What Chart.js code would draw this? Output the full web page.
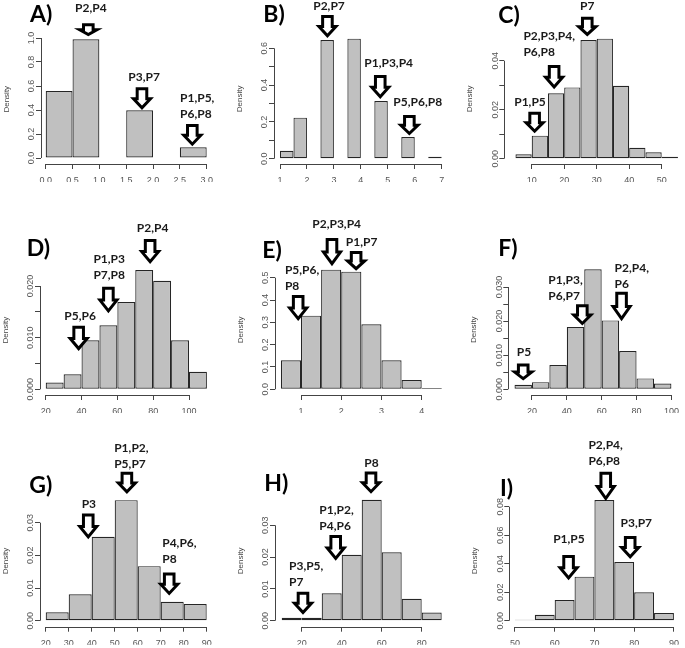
<!DOCTYPE html>
<html>
<head>
<meta charset="utf-8">
<script src="https://cdn.jsdelivr.net/npm/chart.js@4.4.1/dist/chart.umd.min.js"></script>
<style>
  body { margin: 0; background: #fff; }
  #wrap { position: relative; width: 685px; height: 648px; }
  #wrap canvas { position: absolute; left: 0; top: 0; }
</style>
</head>
<body>
<div id="wrap"></div>
<script>
// ---- data (histogram breaks + densities, arrows) ----

const breaksA = [0, 0.5, 1, 1.5, 2, 2.5, 3];
const densA = [0.558, 0.99, 0, 0.397, 0, 0.089];
const xTicksA = [0, 0.5, 1, 1.5, 2, 2.5, 3];
const xLabelsA = ["0.0", "0.5", "1.0", "1.5", "2.0", "2.5", "3.0"];
const yTicksA = [0, 0.2, 0.4, 0.6, 0.8, 1.0];
const yLabelsA = ["0.0", "0.2", "0.4", "0.6", "0.8", "1.0"];
const arrowsA = [
    { x: 0.794, y: 1.017, text: ["P2,P4"] },
    { x: 1.794, y: 0.406, text: ["P3,P7"] },
    { x: 2.732, y: 0.1025, text: ["P1,P5,", "P6,P8"] }
];

const breaksB = [1, 1.5, 2, 2.5, 3, 3.5, 4, 4.5, 5, 5.5, 6, 6.5, 7];
const densB = [0.0435, 0.223, 0, 0.645, 0, 0.6525, 0, 0.3136, 0, 0.118, 0, 0.011];
const xTicksB = [1, 2, 3, 4, 5, 6, 7];
const xLabelsB = ["1", "2", "3", "4", "5", "6", "7"];
const yTicksB = [0, 0.1, 0.2, 0.3, 0.4, 0.5, 0.6];
const yLabelsB = ["0.0", "", "0.2", "", "0.4", "", "0.6"];
const arrowsB = [
    { x: 2.76, y: 0.66, text: ["P2,P7"] },
    { x: 4.72, y: 0.328, text: ["P1,P3,P4"] },
    { x: 5.80, y: 0.129, text: ["P5,P6,P8"] }
];

const breaksC = [5, 10, 15, 20, 25, 30, 35, 40, 45, 50, 55];
const densC = [0.0018, 0.0094, 0.0267, 0.0291, 0.0484, 0.049, 0.0298, 0.0045, 0.0026, 0.0008];
const xTicksC = [10, 20, 30, 40, 50];
const xLabelsC = ["10", "20", "30", "40", "50"];
const yTicksC = [0, 0.01, 0.02, 0.03, 0.04];
const yLabelsC = ["0.00", "", "0.02", "", "0.04"];
const arrowsC = [
    { x: 27.1, y: 0.0501, text: ["P7"] },
    { x: 16.9, y: 0.0287, text: ["P2,P3,P4,", "P6,P8"] },
    { x: 10.9, y: 0.0106, text: ["P1,P5"] }
];

const breaksD = [20, 30, 40, 50, 60, 70, 80, 90, 100, 110];
const densD = [0.0013, 0.0029, 0.0095, 0.0124, 0.0169, 0.0231, 0.0210, 0.0095, 0.0034];
const xTicksD = [20, 40, 60, 80, 100];
const xLabelsD = ["20", "40", "60", "80", "100"];
const yTicksD = [0, 0.005, 0.01, 0.015, 0.02];
const yLabelsD = ["0.000", "", "0.010", "", "0.020"];
const arrowsD = [
    { x: 78.3, y: 0.0244, text: ["P2,P4"] },
    { x: 55.0, y: 0.0149, text: ["P1,P3", "P7,P8"] },
    { x: 38.4, y: 0.0076, text: ["P5,P6"] }
];

const breaksE = [0.5, 1, 1.5, 2, 2.5, 3, 3.5, 4, 4.5];
const densE = [0.130, 0.330, 0.536, 0.527, 0.291, 0.130, 0.042, 0.006];
const xTicksE = [1, 2, 3, 4];
const xLabelsE = ["1", "2", "3", "4"];
const yTicksE = [0, 0.1, 0.2, 0.3, 0.4, 0.5];
const yLabelsE = ["0.0", "0.1", "0.2", "0.3", "0.4", "0.5"];
const arrowsE = [
    { x: 1.77, y: 0.556, text: ["P2,P3,P4"] },
    { x: 2.37, y: 0.534, text: ["P1,P7"] },
    { x: 0.93, y: 0.310, text: ["P5,P6,", "P8"] }
];

const breaksF = [10, 20, 30, 40, 50, 60, 70, 80, 90, 100];
const densF = [0.0013, 0.0021, 0.0071, 0.0183, 0.0352, 0.0202, 0.0112, 0.0032, 0.0017];
const xTicksF = [20, 40, 60, 80, 100];
const xLabelsF = ["20", "40", "60", "80", "100"];
const yTicksF = [0, 0.005, 0.01, 0.015, 0.02, 0.025, 0.03];
const yLabelsF = ["0.000", "", "0.010", "", "0.020", "", "0.030"];
const arrowsF = [
    { x: 48.9, y: 0.01886, text: ["P1,P3,", "P6,P7"] },
    { x: 71.4, y: 0.0203, text: ["P2,P4,", "P6"] },
    { x: 15.0, y: 0.0027, text: ["P5"] }
];

const breaksG = [20, 30, 40, 50, 60, 70, 80, 90];
const densG = [0.0026, 0.0081, 0.0257, 0.0369, 0.0167, 0.0058, 0.0051];
const xTicksG = [20, 30, 40, 50, 60, 70, 80, 90];
const xLabelsG = ["20", "30", "40", "50", "60", "70", "80", "90"];
const yTicksG = [0, 0.01, 0.02, 0.03];
const yLabelsG = ["0.00", "0.01", "0.02", "0.03"];
const arrowsG = [
    { x: 55.3, y: 0.039, text: ["P1,P2,", "P5,P7"] },
    { x: 38.5, y: 0.0252, text: ["P3"] },
    { x: 73.7, y: 0.0079, text: ["P4,P6,", "P8"] }
];

const breaksH = [10, 20, 30, 40, 50, 60, 70, 80, 90];
const densH = [0.0009, 0.0009, 0.0086, 0.0207, 0.038, 0.0215, 0.0069, 0.0026];
const xTicksH = [20, 40, 60, 80];
const xLabelsH = ["20", "40", "60", "80"];
const yTicksH = [0, 0.01, 0.02, 0.03];
const yLabelsH = ["0.00", "0.01", "0.02", "0.03"];
const arrowsH = [
    { x: 54.65, y: 0.0401, text: ["P8"] },
    { x: 37.0, y: 0.0191, text: ["P1,P2,", "P4,P6"] },
    { x: 20.65, y: 0.0021, text: ["P3,P5,", "P7"] }
];

const breaksI = [50, 55, 60, 65, 70, 75, 80, 85, 90];
const densI = [0.0007, 0.0042, 0.0145, 0.0309, 0.0847, 0.0412, 0.0199, 0.0054];
const xTicksI = [50, 60, 70, 80, 90];
const xLabelsI = ["50", "60", "70", "80", "90"];
const yTicksI = [0, 0.02, 0.04, 0.06, 0.08];
const yLabelsI = ["0.00", "0.02", "0.04", "0.06", "0.08"];
const arrowsI = [
    { x: 72.85, y: 0.0847, text: ["P2,P4,", "P6,P8"] },
    { x: 79.0, y: 0.0438, text: ["P3,P7"] },
    { x: 63.5, y: 0.029, text: ["P1,P5"] }
];

const panels = [
    { name: "A)", breaks: breaksA, dens: densA, xTicks: xTicksA, xLabels: xLabelsA, yTicks: yTicksA, yLabels: yLabelsA, arrows: arrowsA },
    { name: "B)", breaks: breaksB, dens: densB, xTicks: xTicksB, xLabels: xLabelsB, yTicks: yTicksB, yLabels: yLabelsB, arrows: arrowsB },
    { name: "C)", breaks: breaksC, dens: densC, xTicks: xTicksC, xLabels: xLabelsC, yTicks: yTicksC, yLabels: yLabelsC, arrows: arrowsC },
    { name: "D)", breaks: breaksD, dens: densD, xTicks: xTicksD, xLabels: xLabelsD, yTicks: yTicksD, yLabels: yLabelsD, arrows: arrowsD },
    { name: "E)", breaks: breaksE, dens: densE, xTicks: xTicksE, xLabels: xLabelsE, yTicks: yTicksE, yLabels: yLabelsE, arrows: arrowsE },
    { name: "F)", breaks: breaksF, dens: densF, xTicks: xTicksF, xLabels: xLabelsF, yTicks: yTicksF, yLabels: yLabelsF, arrows: arrowsF },
    { name: "G)", breaks: breaksG, dens: densG, xTicks: xTicksG, xLabels: xLabelsG, yTicks: yTicksG, yLabels: yLabelsG, arrows: arrowsG },
    { name: "H)", breaks: breaksH, dens: densH, xTicks: xTicksH, xLabels: xLabelsH, yTicks: yTicksH, yLabels: yLabelsH, arrows: arrowsH },
    { name: "I)", breaks: breaksI, dens: densI, xTicks: xTicksI, xLabels: xLabelsI, yTicks: yTicksI, yLabels: yLabelsI, arrows: arrowsI }
];

// ---- layout: pixel reference of two tick values per axis, axis positions,
//      panel letter spot, arrow geometry [length, label dx, label dy] ----
const layout = [
    { xRef: [0, 45.7, 3, 206.7], yRef: [0, 158, 1.0, 38], axisX: 41, axisY: 164, letter: [30, 14.7],
      arrowGeom: [[12.7, -13.3, -27.7], [22, -13.7, -32.6], [21.7, -12.3, -47.4]] },
    { xRef: [1, 280, 7, 441.7], yRef: [0, 158.7, 0.6, 48.3], axisX: 274, axisY: 164, letter: [263.3, 15],
      arrowGeom: [[22.3, -14.2, -31.6], [23.3, -16, -35], [20, -16, -33.3]] },
    { xRef: [10, 531.7, 50, 661.7], yRef: [0, 158.7, 0.04, 60.7], axisX: 504.3, axisY: 164, letter: [498.3, 15.8],
      arrowGeom: [[19.3, -7.3, -29.7], [23.3, -30.7, -52.6], [21, -20.4, -30.7]] },
    { xRef: [20, 45.7, 100, 189], yRef: [0, 389.3, 0.02, 286], axisX: 40, axisY: 395, letter: [26.7, 248.7],
      arrowGeom: [[24.3, -13.3, -35], [25.6, -15, -53], [24.3, -14.4, -33.7]] },
    { xRef: [1, 301, 4, 421.7], yRef: [0, 389.3, 0.5, 277.7], axisX: 275, axisY: 395, letter: [262.3, 250.3],
      arrowGeom: [[27.3, -19.7, -41.3], [19, -10.3, -27.8], [25, -13.3, -49.7]] },
    { xRef: [20, 532.7, 100, 676.7], yRef: [0, 389.3, 0.03, 287], axisX: 508.3, axisY: 395, letter: [498.3, 248.3],
      arrowGeom: [[20.7, -34, -44.7], [28.3, -7, -52], [16.7, -6.4, -28]] },
    { xRef: [20, 45.7, 90, 206.7], yRef: [0, 620.7, 0.03, 522.7], axisX: 40, axisY: 626.7, letter: [29.3, 485.3],
      arrowGeom: [[21.6, -12.7, -45.3], [25, -6.6, -34.3], [22.3, -7, -52]] },
    { xRef: [20, 301.7, 80, 421.7], yRef: [0, 620.7, 0.03, 525.3], axisX: 275, axisY: 626.7, letter: [264.3, 483.3],
      arrowGeom: [[21.6, -6.7, -30.3], [25, -16.4, -50.3], [22.3, -14, -47.7]] },
    { xRef: [50, 515, 90, 676.7], yRef: [0, 620.7, 0.08, 506.7], axisX: 509.3, axisY: 626.7, letter: [500, 488.3],
      arrowGeom: [[28.3, -17.3, -55.3], [22.3, -9.7, -35.3], [24.3, -15.4, -40.5]] }
];

const W = 685, H = 648;
const Y_AXIS_W = 40, X_AXIS_H = 18;
const BAR_FILL = "#c0c0c0", BAR_LINE = "#262626", AXIS_COL = "#444444", TICK_TXT = "#555555";
const ARROW_W = 17;

function drawArrow(ctx, x, y, len) {
    const s = 4.8, h = ARROW_W / 2, hh = len * 0.48;
    ctx.beginPath();
    ctx.moveTo(x - s, y - len + 1.5);
    ctx.lineTo(x + s, y - len + 1.5);
    ctx.lineTo(x + s, y - hh);
    ctx.lineTo(x + h, y - hh);
    ctx.lineTo(x, y - 1.5);
    ctx.lineTo(x - h, y - hh);
    ctx.lineTo(x - s, y - hh);
    ctx.closePath();
    ctx.fillStyle = "#fff";
    ctx.fill();
    ctx.lineWidth = 3;
    ctx.lineJoin = "miter";
    ctx.strokeStyle = "#000";
    ctx.stroke();
}

// R-style axes (lines only between first and last tick), rotated y labels, arrows, letter
function makeRStyle(p, L) {
    return {
        id: "rStyle",
        afterDraw(chart) {
            const ctx = chart.ctx;
            const xs = chart.scales.x, ys = chart.scales.y;
            const area = chart.chartArea;
            ctx.save();
            ctx.strokeStyle = AXIS_COL;
            ctx.lineWidth = 1;
            const by = Math.round(area.bottom) + 0.5;
            ctx.beginPath();
            ctx.moveTo(xs.getPixelForValue(p.xTicks[0]), by);
            ctx.lineTo(xs.getPixelForValue(p.xTicks[p.xTicks.length - 1]), by);
            ctx.stroke();
            const lx = Math.round(area.left) + 0.5;
            ctx.beginPath();
            ctx.moveTo(lx, ys.getPixelForValue(p.yTicks[0]));
            ctx.lineTo(lx, ys.getPixelForValue(p.yTicks[p.yTicks.length - 1]));
            ctx.stroke();

            ctx.fillStyle = TICK_TXT;
            ctx.font = "9px 'Liberation Sans', Arial, sans-serif";
            ctx.textAlign = "center";
            ctx.textBaseline = "middle";
            p.yTicks.forEach((v, i) => {
                if (!p.yLabels[i]) return;
                ctx.save();
                ctx.translate(area.left - 9, ys.getPixelForValue(v));
                ctx.rotate(-Math.PI / 2);
                ctx.fillText(p.yLabels[i], 0, 0);
                ctx.restore();
            });

            p.arrows.forEach((a, i) => {
                const g = L.arrowGeom[i];
                const tx = xs.getPixelForValue(a.x), ty = ys.getPixelForValue(a.y);
                drawArrow(ctx, tx, ty, g[0]);
                ctx.fillStyle = "#1a1a1a";
                ctx.font = "bold 12px Lato, 'Open Sans', sans-serif";
                ctx.textAlign = "left";
                ctx.textBaseline = "middle";
                a.text.forEach((t, j) => ctx.fillText(t, tx + g[1], ty + g[2] + j * 16));
            });

            ctx.fillStyle = "#000";
            ctx.font = "bold 23px Lato, 'Open Sans', sans-serif";
            ctx.textAlign = "left";
            ctx.textBaseline = "middle";
            ctx.fillText(p.name, L.letter[0], L.letter[1]);
            ctx.restore();
        }
    };
}

const wrap = document.getElementById("wrap");

panels.forEach((p, k) => {
    const L = layout[k];
    const xsc = (L.xRef[3] - L.xRef[1]) / (L.xRef[2] - L.xRef[0]);
    const ysc = (L.yRef[1] - L.yRef[3]) / (L.yRef[2] - L.yRef[0]);
    const lo = p.breaks[0], hi = p.breaks[p.breaks.length - 1];
    const xmin = L.xRef[0] - (L.xRef[1] - L.axisX) / xsc;
    const xmax = hi + 0.04 * (hi - lo);
    const right = L.xRef[1] + (xmax - L.xRef[0]) * xsc;
    const ymax = Math.max(...p.dens) * 1.04;
    const ymin = -(L.axisY - L.yRef[1]) / ysc;
    const top = L.yRef[1] - ymax * ysc;

    const mids = p.breaks.slice(0, -1).map((b, i) => (b + p.breaks[i + 1]) / 2);

    const canvas = document.createElement("canvas");
    canvas.width = W;
    canvas.height = H;
    wrap.appendChild(canvas);

    new Chart(canvas, {
        type: "bar",
        data: {
            datasets: [{
                data: mids.map((m, i) => ({ x: m, y: p.dens[i] })),
                backgroundColor: BAR_FILL,
                borderColor: BAR_LINE,
                borderWidth: 1.2,
                borderSkipped: false,
                barPercentage: 1,
                categoryPercentage: 1,
                inflateAmount: 0
            }]
        },
        options: {
            responsive: false,
            animation: false,
            events: [],
            layout: {
                padding: {
                    left: L.axisX - Y_AXIS_W,
                    right: W - right,
                    top: top,
                    bottom: H - L.axisY - X_AXIS_H
                }
            },
            plugins: { legend: { display: false }, tooltip: { enabled: false } },
            scales: {
                x: {
                    type: "linear",
                    min: xmin,
                    max: xmax,
                    offset: false,
                    afterBuildTicks: s => { s.ticks = p.xTicks.map(v => ({ value: v })); },
                    afterFit: s => { s.height = X_AXIS_H; },
                    border: { display: false },
                    grid: { offset: false, drawOnChartArea: false, tickLength: 5, tickColor: AXIS_COL, tickWidth: 1 },
                    ticks: {
                        autoSkip: false,
                        maxRotation: 0,
                        padding: 6,
                        color: TICK_TXT,
                        font: { family: "'Liberation Sans', Arial, sans-serif", size: 9 },
                        callback: (v, i) => p.xLabels[i]
                    }
                },
                y: {
                    type: "linear",
                    min: ymin,
                    max: ymax,
                    afterBuildTicks: s => { s.ticks = p.yTicks.map(v => ({ value: v })); },
                    afterFit: s => { s.width = Y_AXIS_W; },
                    border: { display: false },
                    grid: { drawOnChartArea: false, tickLength: 5, tickColor: AXIS_COL, tickWidth: 1 },
                    ticks: { display: false },
                    title: {
                        display: true,
                        text: "Density",
                        color: "#444",
                        padding: { top: 1, bottom: 0 },
                        font: { family: "'Liberation Sans', Arial, sans-serif", size: 8 }
                    }
                }
            }
        },
        plugins: [makeRStyle(p, L)]
    });
});
</script>
</body>
</html>
